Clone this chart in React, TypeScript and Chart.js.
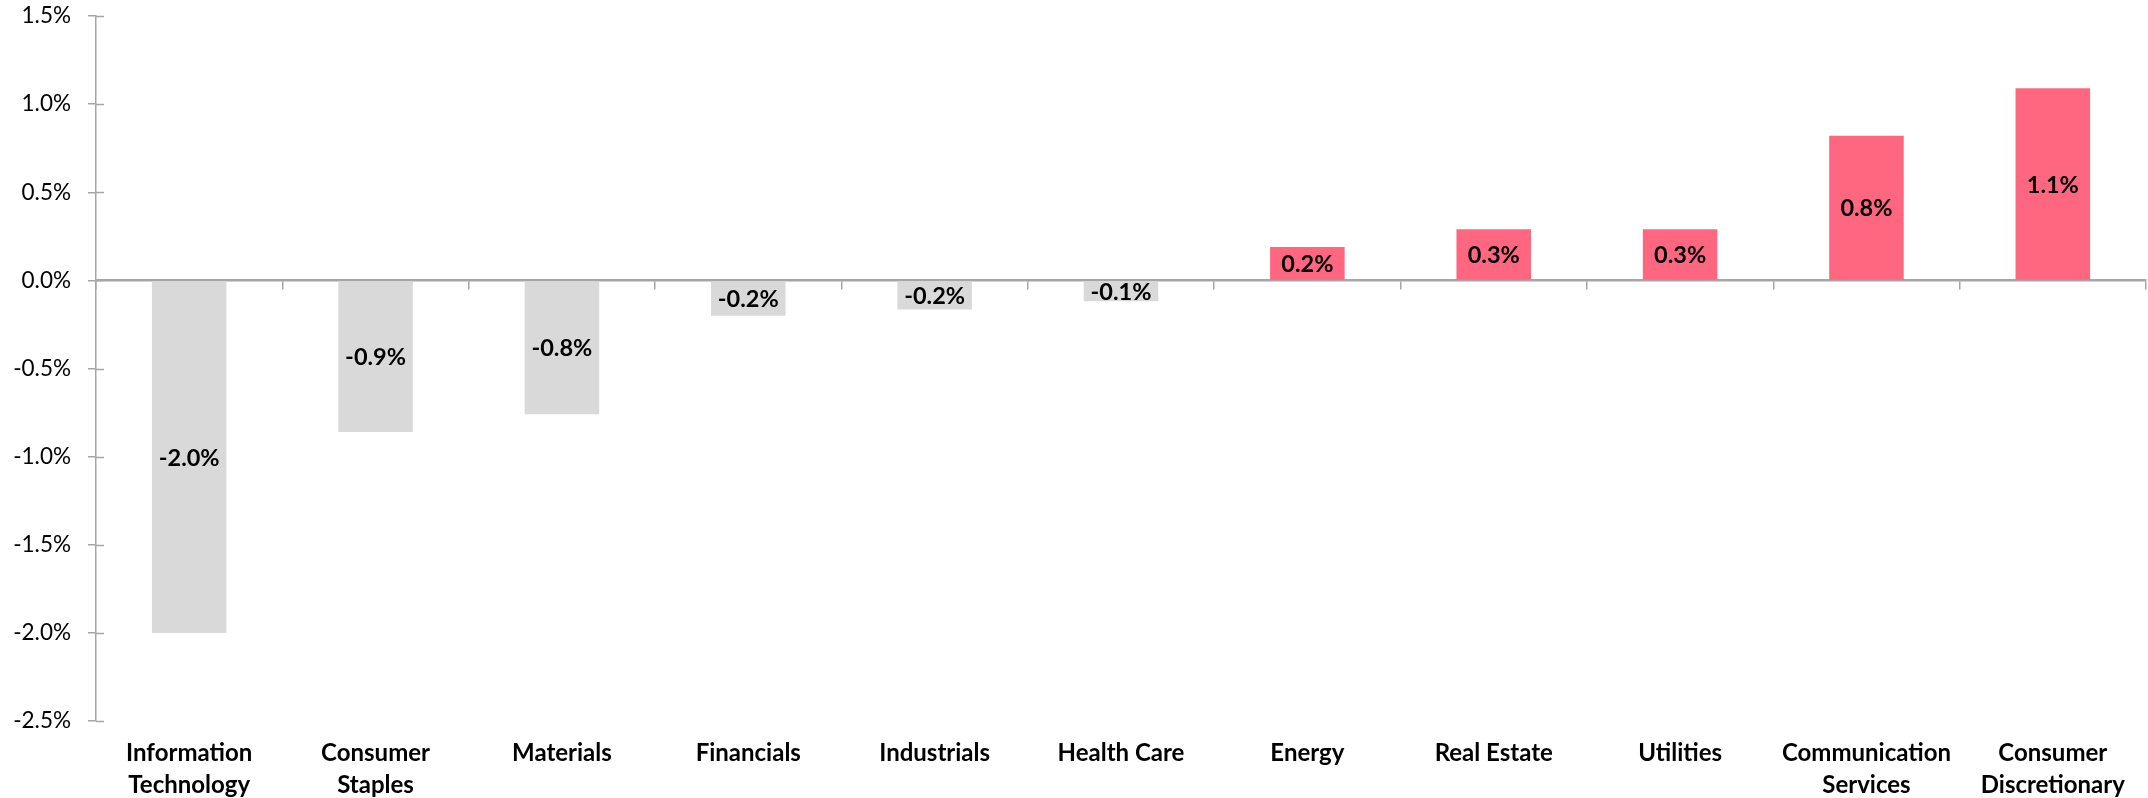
import React, { useEffect, useRef } from "react";
import { Chart, registerables } from "chart.js";

Chart.register(...registerables);

const categories: string[][] = [
  ["Information", "Technology"],
  ["Consumer", "Staples"],
  ["Materials"],
  ["Financials"],
  ["Industrials"],
  ["Health Care"],
  ["Energy"],
  ["Real Estate"],
  ["Utilities"],
  ["Communication", "Services"],
  ["Consumer", "Discretionary"],
];

const values: number[] = [-2.0, -0.86, -0.76, -0.2, -0.165, -0.118, 0.19, 0.29, 0.29, 0.82, 1.09];

const valueLabels: string[] = ["-2.0%", "-0.9%", "-0.8%", "-0.2%", "-0.2%", "-0.1%", "0.2%", "0.3%", "0.3%", "0.8%", "1.1%"];

const yMin = -2.5;
const yMax = 1.5;
const yStep = 0.5;

const NEG_COLOR = "#D9D9D9";
const POS_COLOR = "#FF6680";
const AXIS_COLOR = "#A6A6A6";
const FONT = "Lato, 'Open Sans', sans-serif";

const barLabelPlugin = {
  id: "barLabels",
  afterDatasetsDraw(chart: any) {
    const ctx = chart.ctx;
    const meta = chart.getDatasetMeta(0);
    ctx.save();
    ctx.font = `bold 23.5px ${FONT}`;
    ctx.fillStyle = "#000000";
    ctx.textAlign = "center";
    ctx.textBaseline = "middle";
    meta.data.forEach((el: any, i: number) => {
      const cy = (el.y + el.base) / 2;
      ctx.fillText(valueLabels[i], el.x, cy + 1);
    });
    ctx.restore();
  },
};

const crossTickPlugin = {
  id: "crossTicks",
  afterDraw(chart: any) {
    const ctx = chart.ctx;
    const y = chart.scales.y;
    ctx.save();
    ctx.strokeStyle = AXIS_COLOR;
    ctx.lineWidth = 1.5;
    y.ticks.forEach((t: any) => {
      const py = Math.round(y.getPixelForValue(t.value)) + 0.5;
      ctx.beginPath();
      ctx.moveTo(y.right, py);
      ctx.lineTo(y.right + 8, py);
      ctx.stroke();
    });
    ctx.restore();
  },
};

export default function App() {
  const ref = useRef<HTMLCanvasElement | null>(null);

  useEffect(() => {
    document.body.style.margin = "0";
    if (!ref.current) return;
    const chart = new Chart(ref.current, {
      type: "bar",
      data: {
        labels: categories as any,
        datasets: [
          {
            data: values,
            backgroundColor: values.map((v) => (v < 0 ? NEG_COLOR : POS_COLOR)),
            borderWidth: 0,
            categoryPercentage: 1,
            barPercentage: 0.4,
            xAxisID: "x",
            yAxisID: "y",
          },
        ],
      },
      options: {
        animation: false,
        responsive: true,
        maintainAspectRatio: false,
        layout: { padding: { top: 16, right: 2, left: 0, bottom: 0 } },
        plugins: {
          legend: { display: false },
          tooltip: { enabled: false },
        },
        scales: {
          x: {
            type: "category",
            position: { y: 0 } as any,
            offset: true,
            ticks: { display: false },
            grid: {
              display: true,
              offset: true,
              drawOnChartArea: false,
              drawTicks: true,
              tickLength: 8,
              color: AXIS_COLOR,
              lineWidth: 1.5,
            },
            border: { display: true, color: AXIS_COLOR, width: 2.5 },
          },
          x2: {
            type: "category",
            position: "bottom",
            offset: true,
            grid: { display: false, drawTicks: false },
            border: { display: false },
            ticks: {
              autoSkip: false,
              maxRotation: 0,
              minRotation: 0,
              padding: 17,
              color: "#000000",
              font: { family: FONT, size: 24, weight: "bold", lineHeight: 1.3 },
            },
            afterFit: (scale: any) => {
              scale.height = 77;
            },
          },
          y: {
            type: "linear",
            min: yMin,
            max: yMax,
            ticks: {
              stepSize: yStep,
              padding: 17,
              color: "#000000",
              font: { family: FONT, size: 22.5 },
              callback: (v: any) => Number(v).toFixed(1) + "%",
            },
            grid: {
              display: true,
              drawOnChartArea: false,
              drawTicks: true,
              tickLength: 8,
              color: AXIS_COLOR,
              lineWidth: 1.5,
            },
            border: { display: true, color: AXIS_COLOR, width: 1.5 },
            afterFit: (scale: any) => {
              scale.width = 96;
              scale.paddingTop = 0;
              scale.paddingBottom = 0;
            },
          },
        },
      },
      plugins: [barLabelPlugin, crossTickPlugin],
    });
    return () => chart.destroy();
  }, []);

  return (
    <div style={{ position: "fixed", left: 0, top: 0, width: "100vw", height: "100vh", background: "#ffffff" }}>
      <canvas ref={ref} />
    </div>
  );
}
